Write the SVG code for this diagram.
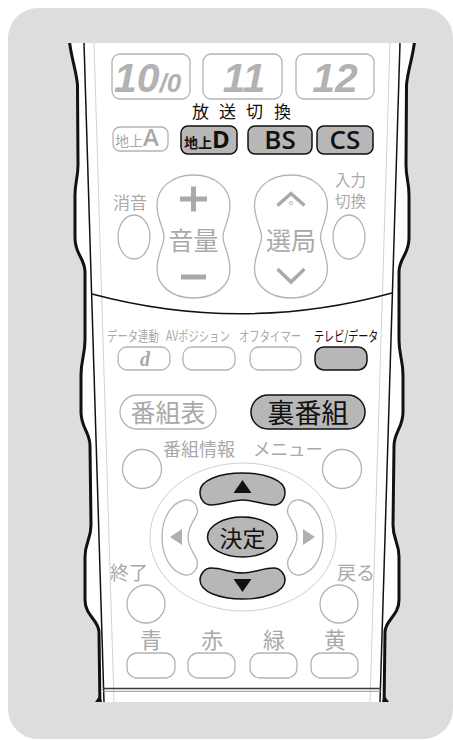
<svg xmlns="http://www.w3.org/2000/svg" width="453" height="740" viewBox="0 0 453 740">
<defs>
<style>
.g{fill:#a9a9a9}
.jp{font-family:"Noto Sans CJK JP","Noto Sans",sans-serif}
.lat{font-family:"Open Sans","Liberation Sans",sans-serif}
.num{fill:#b2b2b2;font-family:"Liberation Sans",sans-serif;font-weight:bold;font-style:italic;font-size:41px}
.btn{fill:#fff;stroke:#b3b3b3;stroke-width:1.3}
.dk{fill:#b7b7b7;stroke:#111;stroke-width:1.5}
.out{fill:none;stroke:#111;stroke-width:3;stroke-linejoin:round}
.faint{fill:none;stroke:#d2d2d2;stroke-width:1}
.bar{stroke:#a9a9a9;stroke-width:5;fill:none}
.sm{font-size:14px}
</style>
<clipPath id="rc"><rect x="0" y="43" width="453" height="659"/></clipPath>
</defs>
<rect x="8" y="8" width="445" height="731" rx="30" fill="#dcdddd"/>
<g id="remote-body" clip-path="url(#rc)">
<path fill="#fff" d="M 69 36 C 70 55, 76 68, 77.5 85 L 78 165 C 78 178, 75 182, 75 195 L 75 238 C 75 255, 85 258, 85 272 L 85 340 C 85 355, 81 360, 81 375 L 81 412 C 81 428, 90 432, 90 446 L 91 525 C 91 540, 85 542, 85 557 L 85 600 C 85 616, 99 620, 99 632 L 100 710 L 384 710 L 385 632 C 385 620, 399 616, 399 600 L 399 557 C 399 542, 393 540, 393 525 L 394 446 C 394 432, 403 428, 403 412 L 403 375 C 403 360, 399 355, 399 340 L 399 272 C 399 258, 409 255, 409 238 L 409 195 C 409 182, 406 178, 406 165 L 406.5 85 C 408 68, 414 55, 415 36 Z"/>
<line class="faint" x1="94" y1="43" x2="114" y2="702"/>
<line class="faint" x1="390" y1="43" x2="370" y2="702"/>
<line x1="84" y1="43" x2="104" y2="702" stroke="#111" stroke-width="1.5"/>
<line x1="400" y1="43" x2="380" y2="702" stroke="#111" stroke-width="1.5"/>
<path class="out" d="M 69 36 C 70 55, 76 68, 77.5 85 L 78 165 C 78 178, 75 182, 75 195 L 75 238 C 75 255, 85 258, 85 272 L 85 340 C 85 355, 81 360, 81 375 L 81 412 C 81 428, 90 432, 90 446 L 91 525 C 91 540, 85 542, 85 557 L 85 600 C 85 616, 99 620, 99 632 L 100 710"/>
<path class="out" d="M 415 36 C 414 55, 408 68, 406.5 85 L 406 165 C 406 178, 409 182, 409 195 L 409 238 C 409 255, 399 258, 399 272 L 399 340 C 399 355, 403 360, 403 375 L 403 412 C 403 428, 394 432, 394 446 L 393 525 C 393 540, 399 542, 399 557 L 399 600 C 399 616, 385 620, 385 632 L 384 710"/>
<polygon points="100,695 95,702 102,702" fill="#111"/>
<polygon points="384,695 389,702 382,702" fill="#111"/>
<line x1="103" y1="688.5" x2="381" y2="688.5" stroke="#3a3a3a" stroke-width="1.6"/>
<line x1="103" y1="691.3" x2="381" y2="691.3" stroke="#8a8a8a" stroke-width="0.9"/>
<path d="M 92 294 Q 242 334 392 293" fill="none" stroke="#111" stroke-width="1.5"/>
</g>
<g id="num-10">
<rect class="btn" x="112" y="54" width="78" height="45" rx="8"/>
<text x="114" y="92" class="num">10<tspan font-size="26">/0</tspan></text>
</g>
<g id="num-11">
<rect class="btn" x="203" y="54" width="79" height="45" rx="8"/>
<text x="244" y="92" text-anchor="middle" class="num">11</text>
</g>
<g id="num-12">
<rect class="btn" x="296" y="54" width="78" height="45" rx="8"/>
<text x="335" y="92" text-anchor="middle" class="num">12</text>
</g>
<g id="label-broadcast">
<text class="jp" x="192 219 246 274" y="117.5" font-size="17" fill="#111">放送切換</text>
</g>
<g id="btn-chijoA">
<rect class="btn" x="113" y="127" width="55" height="24" rx="7"/>
<text x="115" y="146" class="g"><tspan class="jp" font-size="14">地上</tspan><tspan class="lat" font-size="24" font-weight="600">A</tspan></text>
</g>
<g id="btn-chijoD">
<rect class="dk" x="181" y="126" width="56" height="28" rx="7"/>
<text x="184" y="148" fill="#111"><tspan class="jp" font-size="14" font-weight="bold">地上</tspan><tspan class="lat" font-size="24" font-weight="bold">D</tspan></text>
</g>
<g id="btn-BS">
<rect class="dk" x="248" y="126" width="64" height="28" rx="7"/>
<text x="280" y="149" text-anchor="middle" class="lat" font-size="26" font-weight="600" fill="#111">BS</text>
</g>
<g id="btn-CS">
<rect class="dk" x="317" y="126" width="56" height="28" rx="7"/>
<text x="345" y="149" text-anchor="middle" class="lat" font-size="26" font-weight="600" fill="#111">CS</text>
</g>
<g id="btn-mute">
<text x="113" y="209" class="g jp" font-size="17">消音</text>
<ellipse class="btn" cx="134" cy="237" rx="16" ry="22"/>
</g>
<g id="btn-volume">
<path class="btn" d="M 193.5 175 C 215 175, 230 188, 230 205 C 230 220, 223 228, 223 237 C 223 246, 230 254, 230 269 C 230 286, 215 298, 193.5 298 C 172 298, 157 286, 157 269 C 157 254, 164 246, 164 237 C 164 228, 157 220, 157 205 C 157 188, 172 175, 193.5 175 Z"/>
<path class="bar" d="M 180 199 H 207 M 193.5 186.5 V 211.5 M 181 277 H 206"/>
<text x="193.5" y="250" text-anchor="middle" class="g jp" font-size="25">音量</text>
</g>
<g id="btn-channel">
<path class="btn" d="M 291 175 C 312.5 175, 327.5 188, 327.5 205 C 327.5 220, 320.5 228, 320.5 237 C 320.5 246, 327.5 254, 327.5 269 C 327.5 286, 312.5 298, 291 298 C 269.5 298, 254.5 286, 254.5 269 C 254.5 254, 261.5 246, 261.5 237 C 261.5 228, 254.5 220, 254.5 205 C 254.5 188, 269.5 175, 291 175 Z"/>
<path d="M 277.5 205.5 L 291 193.5 L 304.5 205.5 M 277.5 269 L 291 282 L 304.5 269" fill="none" stroke="#a9a9a9" stroke-width="3.5"/>
<circle cx="291" cy="203" r="1.6" fill="none" stroke="#a9a9a9" stroke-width="0.8"/>
<text x="291" y="250" text-anchor="middle" class="g jp" font-size="25">選局</text>
</g>
<g id="btn-input">
<text x="335" y="186" class="g jp" font-size="15.5">入力</text>
<text x="335" y="207" class="g jp" font-size="15.5">切換</text>
<ellipse class="btn" cx="349" cy="237" rx="16" ry="22"/>
</g>
<g id="btn-data">
<text transform="translate(107,341) scale(0.74,1)" class="g jp sm">データ連動</text>
<rect class="btn" x="118" y="347" width="52" height="23" rx="9"/>
<text x="140" y="366" class="g" font-family="Liberation Serif,serif" font-weight="bold" font-style="italic" font-size="20">d</text>
</g>
<g id="btn-av">
<text transform="translate(166,341) scale(0.74,1)" class="g jp sm">AVポジション</text>
<rect class="btn" x="183" y="347" width="52" height="23" rx="9"/>
</g>
<g id="btn-offtimer">
<text transform="translate(239,341) scale(0.74,1)" class="g jp sm">オフタイマー</text>
<rect class="btn" x="250" y="347" width="51" height="23" rx="9"/>
</g>
<g id="btn-tvdata">
<text transform="translate(314,341) scale(0.72,1)" class="jp sm" fill="#111">テレビ/データ</text>
<rect class="dk" x="315" y="347" width="52" height="23" rx="9"/>
</g>
<g id="btn-guide">
<rect class="btn" x="120" y="395" width="96" height="34" rx="17"/>
<text x="168" y="422" text-anchor="middle" class="g jp" font-size="25">番組表</text>
</g>
<g id="btn-urabangumi">
<rect class="dk" x="251" y="395" width="114" height="34" rx="17"/>
<text x="308" y="423" text-anchor="middle" class="jp" fill="#111" font-size="27">裏番組</text>
</g>
<g id="dpad-ring">
<ellipse cx="243" cy="537" rx="93" ry="74" fill="none" stroke="#cfcfcf" stroke-width="1"/>
</g>
<g id="btn-info">
<text x="163" y="456" class="g jp" font-size="18">番組情報</text>
<circle class="btn" cx="142" cy="469" r="19.5"/>
</g>
<g id="btn-menu">
<text x="253" y="456" class="g jp" font-size="18" textLength="70" lengthAdjust="spacingAndGlyphs">メニュー</text>
<circle class="btn" cx="342" cy="469" r="19.5"/>
</g>
<g id="btn-up">
<path class="dk" d="M 200 492 C 200 480, 220 473, 242.5 473 C 265 473, 285 480, 285 492 C 285 500, 280 505, 274 505 C 262 505, 255 500, 242.5 500 C 230 500, 223 505, 211 505 C 205 505, 200 500, 200 492 Z"/>
<polygon points="242.5,480 233.5,493 251.5,493" fill="#111"/>
</g>
<g id="btn-enter">
<ellipse class="dk" cx="242.5" cy="537" rx="35" ry="20"/>
<text x="242.5" y="547" text-anchor="middle" class="jp" fill="#111" font-size="23">決定</text>
</g>
<g id="btn-down">
<path class="dk" d="M 200 580 C 200 574, 205 568, 211 568 C 223 568, 230 573, 242.5 573 C 255 573, 262 568, 274 568 C 280 568, 285 574, 285 580 C 285 592, 265 599, 242.5 599 C 220 599, 200 592, 200 580 Z"/>
<polygon points="233.5,579 251.5,579 242.5,592" fill="#111"/>
</g>
<g id="btn-left">
<path class="btn" d="M 185 500 C 170 503, 162 520, 162 537 C 162 555, 170 572, 185 575 C 193 576, 199 568, 197 560 C 194 553, 188 547, 188 537 C 188 527, 194 521, 197 514 C 199 506, 193 499, 185 500 Z"/>
<polygon points="170,537 182,529 182,545" fill="#b0b0b0"/>
</g>
<g id="btn-right">
<path class="btn" d="M 300 500 C 315 503, 323 520, 323 537 C 323 555, 315 572, 300 575 C 292 576, 286 568, 288 560 C 291 553, 297 547, 297 537 C 297 527, 291 521, 288 514 C 286 506, 292 499, 300 500 Z"/>
<polygon points="315,537 303,529 303,545" fill="#b0b0b0"/>
</g>
<g id="btn-exit">
<text x="110" y="580" class="g jp" font-size="19">終了</text>
<circle class="btn" cx="146" cy="604" r="19"/>
</g>
<g id="btn-back">
<text x="337" y="580" class="g jp" font-size="19">戻る</text>
<circle class="btn" cx="339" cy="604" r="19"/>
</g>
<g id="btn-blue">
<text x="151" y="648" text-anchor="middle" class="g jp" font-size="22">青</text>
<rect class="btn" x="127" y="653" width="48" height="25" rx="10"/>
</g>
<g id="btn-red">
<text x="212" y="648" text-anchor="middle" class="g jp" font-size="22">赤</text>
<rect class="btn" x="188" y="653" width="47" height="25" rx="10"/>
</g>
<g id="btn-green">
<text x="274" y="648" text-anchor="middle" class="g jp" font-size="22">緑</text>
<rect class="btn" x="250" y="653" width="47" height="25" rx="10"/>
</g>
<g id="btn-yellow">
<text x="335" y="648" text-anchor="middle" class="g jp" font-size="22">黄</text>
<rect class="btn" x="311" y="653" width="47" height="25" rx="10"/>
</g>
</svg>
